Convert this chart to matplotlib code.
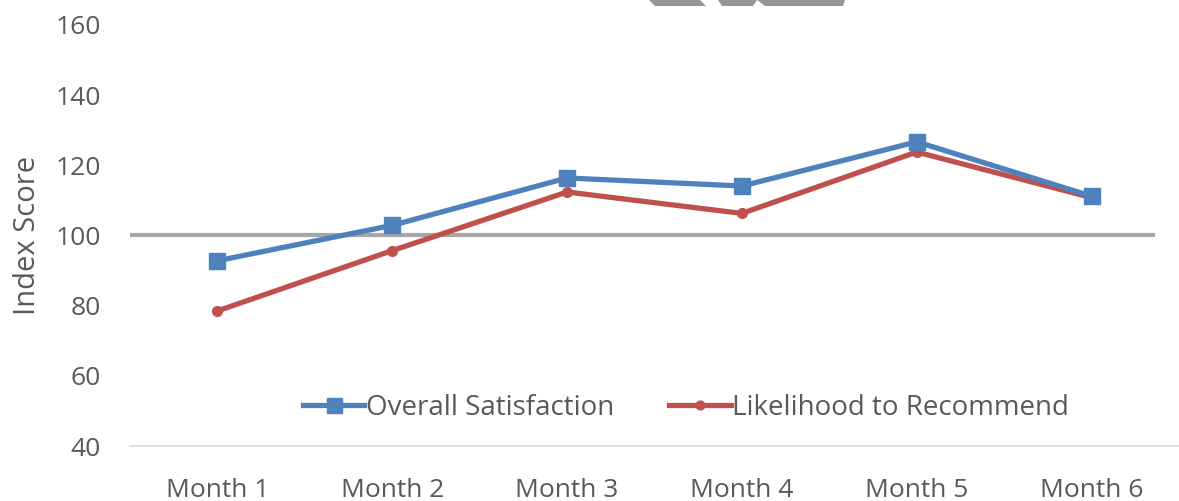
import matplotlib
matplotlib.use('Agg')
import matplotlib.pyplot as plt
from matplotlib.patches import Polygon

plt.rcParams['font.family'] = ['Open Sans', 'DejaVu Sans']

months = ['Month 1', 'Month 2', 'Month 3', 'Month 4', 'Month 5', 'Month 6']
overall_satisfaction = [92.8, 102.9, 116.4, 114.1, 126.7, 111.2]
likelihood_recommend = [78.5, 95.7, 112.4, 106.3, 123.8, 110.8]
baseline = 100

blue = '#4F81BD'
red = '#C0504D'
text_col = '#595959'

fig = plt.figure(figsize=(11.79, 5.01), dpi=100)
ax = fig.add_axes([130/1179, 55/501, 1 - 130/1179, 421/501])

x = list(range(len(months)))
ax.plot([-0.5, 5.35], [baseline, baseline], color='#A6A6A6', lw=3, zorder=1)
ax.plot(x, overall_satisfaction, color=blue, lw=3.8, marker='s', ms=12,
        label='Overall Satisfaction', zorder=3)
ax.plot(x, likelihood_recommend, color=red, lw=3.8, marker='o', ms=7,
        label='Likelihood to Recommend', zorder=2)

ax.set_xlim(-0.5, 5.5)
ax.set_ylim(40, 160)
ax.set_yticks(range(40, 161, 20))
ax.set_xticks(x)
ax.set_xticklabels(months)
for s in ['top', 'right', 'left']:
    ax.spines[s].set_visible(False)
ax.spines['bottom'].set_color('#D9D9D9')
ax.spines['bottom'].set_linewidth(1.2)
ax.tick_params(axis='both', length=0, labelsize=19, colors=text_col)
ax.tick_params(axis='x', pad=23)
ax.tick_params(axis='y', pad=21)
ax.set_ylabel('Index Score', fontsize=21, color=text_col, labelpad=10)

leg = fig.legend(loc='center', bbox_to_anchor=(686/1179, 93/501), ncol=2,
                 frameon=False, fontsize=20, handlelength=2.2,
                 handletextpad=0.05, columnspacing=2.0, labelcolor=text_col,
                 markerscale=0.9)

# grey chevron fragments along the top edge
for pts in [[(649, 0), (700, 0), (706, 6), (655, 6)],
            [(718, 0), (757, 0), (753, 6), (722, 6)],
            [(757, 0), (845, 0), (843, 6), (765, 6)]]:
    fig.patches.append(Polygon([(px/1179, 1 - py/501) for px, py in pts],
                               closed=True, transform=fig.transFigure,
                               color='#969696', lw=0))

fig.savefig('out.png', dpi=100)
